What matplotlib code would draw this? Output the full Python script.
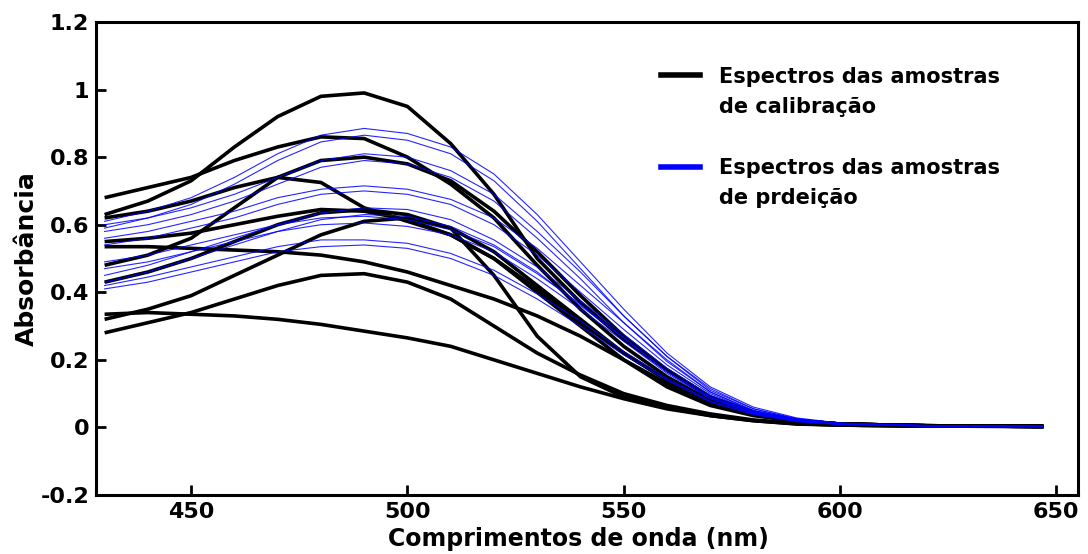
import matplotlib
matplotlib.use('Agg')
import matplotlib.pyplot as plt
from matplotlib.lines import Line2D

plt.rcParams['font.family'] = ['DejaVu Sans']
plt.rcParams['font.weight'] = 'bold'

# comprimentos de onda (nm)
wl = [430, 440, 450, 460, 470, 480, 490, 500, 510, 520,
      530, 540, 550, 560, 570, 580, 590, 600, 620, 647]

# espectros das amostras de calibracao
cal_1 = [0.63, 0.67, 0.73, 0.83, 0.92, 0.98, 0.99, 0.95, 0.84, 0.69, 0.50, 0.37, 0.26, 0.17, 0.09, 0.045, 0.02, 0.01, 0.005, 0.003]
cal_2 = [0.68, 0.71, 0.74, 0.79, 0.83, 0.86, 0.855, 0.80, 0.72, 0.62, 0.48, 0.35, 0.24, 0.15, 0.08, 0.04, 0.02, 0.01, 0.005, 0.003]
cal_3 = [0.48, 0.51, 0.56, 0.65, 0.74, 0.79, 0.80, 0.78, 0.73, 0.64, 0.52, 0.39, 0.27, 0.17, 0.09, 0.045, 0.02, 0.01, 0.005, 0.003]
cal_4 = [0.62, 0.64, 0.67, 0.71, 0.74, 0.725, 0.65, 0.61, 0.57, 0.50, 0.40, 0.30, 0.20, 0.12, 0.065, 0.035, 0.018, 0.01, 0.005, 0.003]
cal_5 = [0.43, 0.46, 0.50, 0.55, 0.60, 0.635, 0.645, 0.63, 0.59, 0.52, 0.42, 0.32, 0.22, 0.14, 0.075, 0.04, 0.02, 0.01, 0.005, 0.003]
cal_6 = [0.32, 0.35, 0.39, 0.45, 0.51, 0.57, 0.61, 0.62, 0.59, 0.45, 0.27, 0.15, 0.09, 0.06, 0.035, 0.02, 0.01, 0.007, 0.004, 0.003]
cal_7 = [0.28, 0.31, 0.34, 0.38, 0.42, 0.45, 0.455, 0.43, 0.38, 0.30, 0.22, 0.155, 0.10, 0.065, 0.04, 0.022, 0.012, 0.007, 0.004, 0.003]
cal_8 = [0.335, 0.34, 0.335, 0.33, 0.32, 0.305, 0.285, 0.265, 0.24, 0.20, 0.16, 0.12, 0.085, 0.055, 0.035, 0.02, 0.011, 0.007, 0.004, 0.003]
cal_9 = [0.535, 0.535, 0.53, 0.525, 0.52, 0.51, 0.49, 0.46, 0.42, 0.38, 0.33, 0.27, 0.20, 0.13, 0.075, 0.04, 0.02, 0.01, 0.005, 0.003]
cal_10 = [0.55, 0.56, 0.575, 0.60, 0.625, 0.645, 0.64, 0.615, 0.57, 0.50, 0.41, 0.31, 0.22, 0.14, 0.08, 0.04, 0.02, 0.01, 0.005, 0.003]

# espectros das amostras de previsao
pred_1a = [0.61, 0.64, 0.68, 0.74, 0.81, 0.865, 0.885, 0.87, 0.83, 0.75, 0.63, 0.49, 0.35, 0.22, 0.12, 0.06, 0.028, 0.013, 0.006, 0.004]
pred_1b = [0.59, 0.62, 0.66, 0.72, 0.79, 0.845, 0.865, 0.85, 0.81, 0.73, 0.61, 0.47, 0.33, 0.21, 0.11, 0.055, 0.025, 0.012, 0.005, 0.003]
pred_2a = [0.60, 0.62, 0.65, 0.69, 0.74, 0.79, 0.81, 0.80, 0.76, 0.69, 0.58, 0.46, 0.33, 0.21, 0.115, 0.055, 0.026, 0.012, 0.005, 0.003]
pred_2b = [0.58, 0.60, 0.63, 0.67, 0.72, 0.77, 0.79, 0.78, 0.74, 0.67, 0.56, 0.44, 0.31, 0.20, 0.105, 0.05, 0.024, 0.011, 0.005, 0.003]
pred_3a = [0.56, 0.58, 0.61, 0.64, 0.68, 0.705, 0.715, 0.705, 0.675, 0.62, 0.53, 0.42, 0.31, 0.195, 0.105, 0.05, 0.023, 0.011, 0.005, 0.003]
pred_3b = [0.54, 0.56, 0.59, 0.62, 0.66, 0.69, 0.70, 0.69, 0.66, 0.60, 0.51, 0.40, 0.29, 0.185, 0.10, 0.048, 0.022, 0.01, 0.005, 0.003]
pred_4a = [0.45, 0.48, 0.52, 0.56, 0.60, 0.635, 0.65, 0.645, 0.615, 0.555, 0.475, 0.375, 0.275, 0.175, 0.095, 0.046, 0.021, 0.01, 0.005, 0.003]
pred_4b = [0.43, 0.46, 0.50, 0.54, 0.58, 0.615, 0.63, 0.625, 0.595, 0.54, 0.46, 0.36, 0.265, 0.165, 0.09, 0.044, 0.02, 0.01, 0.005, 0.003]
pred_5a = [0.42, 0.445, 0.475, 0.505, 0.535, 0.555, 0.555, 0.545, 0.515, 0.465, 0.395, 0.315, 0.225, 0.145, 0.078, 0.04, 0.018, 0.009, 0.004, 0.003]
pred_5b = [0.41, 0.43, 0.46, 0.49, 0.52, 0.535, 0.54, 0.53, 0.50, 0.45, 0.38, 0.30, 0.215, 0.14, 0.075, 0.038, 0.017, 0.009, 0.004, 0.003]
pred_6a = [0.49, 0.51, 0.54, 0.57, 0.60, 0.62, 0.625, 0.615, 0.585, 0.535, 0.455, 0.365, 0.265, 0.165, 0.088, 0.043, 0.02, 0.01, 0.005, 0.003]
pred_6b = [0.47, 0.49, 0.52, 0.55, 0.58, 0.60, 0.605, 0.595, 0.57, 0.52, 0.44, 0.35, 0.255, 0.16, 0.085, 0.042, 0.02, 0.01, 0.005, 0.003]

calibracao = [cal_1, cal_2, cal_3, cal_4, cal_5, cal_6, cal_7, cal_8, cal_9, cal_10]
previsao = [pred_1a, pred_1b, pred_2a, pred_2b, pred_3a, pred_3b,
            pred_4a, pred_4b, pred_5a, pred_5b, pred_6a, pred_6b]

xticks = [450, 500, 550, 600, 650]
yticks = [-0.2, 0, 0.2, 0.4, 0.6, 0.8, 1, 1.2]
ytick_labels = ['-0.2', '0', '0.2', '0.4', '0.6', '0.8', '1', '1.2']

fig = plt.figure(figsize=(10.88, 5.54), dpi=100)
ax = fig.add_axes([0.0882, 0.1065, 0.9026, 0.8538])

for s in calibracao:
    ax.plot(wl, s, color='black', lw=2.6, solid_capstyle='butt', solid_joinstyle='round')
for s in previsao:
    ax.plot(wl, s, color='#0000ff', lw=0.8, alpha=0.85, solid_joinstyle='round')

ax.set_xlim(428, 655)
ax.set_ylim(-0.2, 1.2)
ax.set_xticks(xticks)
ax.set_yticks(yticks)
ax.set_yticklabels(ytick_labels)
ax.tick_params(direction='in', length=7, width=2, labelsize=16, pad=5)
for sp in ax.spines.values():
    sp.set_linewidth(2.2)

ax.set_xlabel('Comprimentos de onda (nm)', fontsize=17, fontweight='bold')
ax.xaxis.set_label_coords(0.491, -0.068)
ax.set_ylabel('Absorbância', fontsize=18, fontweight='bold', labelpad=1)

handles = [Line2D([], [], color='black', lw=4),
           Line2D([], [], color='none'),
           Line2D([], [], color='none'),
           Line2D([], [], color='#0000ff', lw=4),
           Line2D([], [], color='none')]
labels = ['Espectros das amostras', 'de calibração', '',
          'Espectros das amostras', 'de prdeição']
ax.legend(handles, labels, loc='upper left', bbox_to_anchor=(0.556, 0.945),
          frameon=False, handlelength=1.9, handletextpad=0.9,
          labelspacing=0.5, prop={'weight': 'bold', 'size': 15})

fig.savefig('out.png', dpi=100)
